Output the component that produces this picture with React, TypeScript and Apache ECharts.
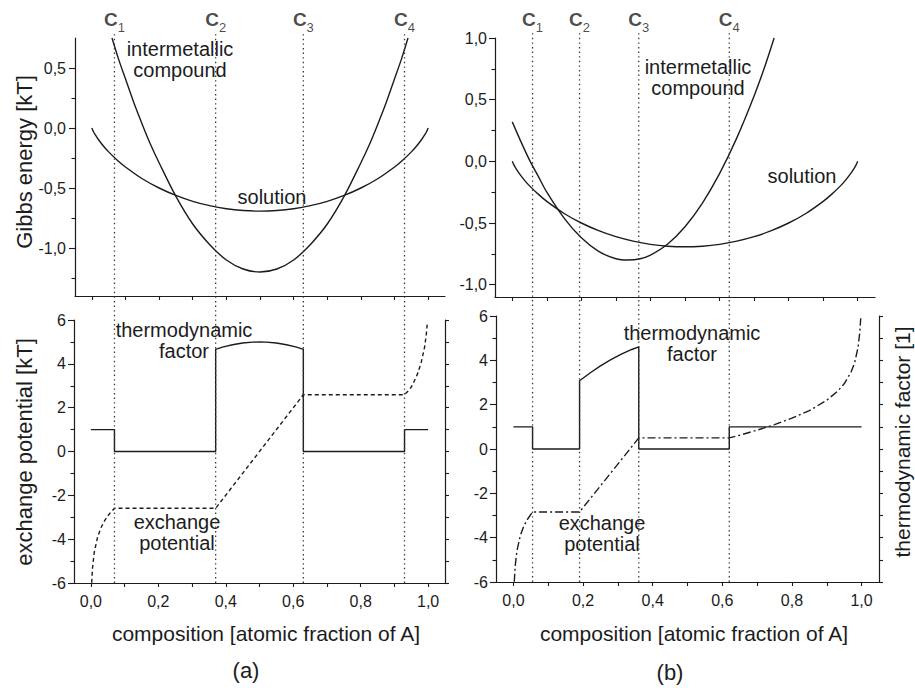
import React, { useEffect, useRef } from 'react';
import * as echarts from 'echarts';

const FONT = '"Liberation Sans", Arial, Helvetica, sans-serif';
const INK = '#1c1c1c';

// Gibbs energy of the solution phase (same curve in both panels)
const solutionX = [0, 0.005, 0.01, 0.02, 0.035, 0.05, 0.075, 0.1, 0.15, 0.2, 0.25, 0.3, 0.35, 0.4, 0.45, 0.5, 0.55, 0.6, 0.65, 0.7, 0.75, 0.8, 0.85, 0.9, 0.925, 0.95, 0.965, 0.98, 0.99, 0.995, 1];
const solutionG = [0, -0.031, -0.056, -0.098, -0.152, -0.199, -0.266, -0.325, -0.423, -0.5, -0.562, -0.611, -0.647, -0.673, -0.688, -0.693, -0.688, -0.673, -0.647, -0.611, -0.562, -0.5, -0.423, -0.325, -0.266, -0.199, -0.152, -0.098, -0.056, -0.031, 0];

// Gibbs energy of the intermetallic compound, panel (a)
const compoundAX = [0.06, 0.08, 0.1, 0.125, 0.15, 0.175, 0.2, 0.25, 0.3, 0.35, 0.4, 0.45, 0.5, 0.55, 0.6, 0.65, 0.7, 0.75, 0.8, 0.825, 0.85, 0.875, 0.9, 0.92, 0.94];
const compoundAG = [0.75, 0.57, 0.41, 0.21, 0.03, -0.14, -0.29, -0.57, -0.8, -0.97, -1.1, -1.175, -1.2, -1.175, -1.1, -0.97, -0.8, -0.57, -0.29, -0.14, 0.03, 0.21, 0.41, 0.57, 0.75];

// Gibbs energy of the intermetallic compound, panel (b)
const compoundBX = [0, 0.025, 0.05, 0.075, 0.1, 0.15, 0.2, 0.25, 0.3, 0.335, 0.37, 0.4, 0.45, 0.5, 0.55, 0.6, 0.65, 0.7, 0.73, 0.758];
const compoundBG = [0.32, 0.16, 0.01, -0.12, -0.25, -0.46, -0.62, -0.73, -0.79, -0.8, -0.79, -0.76, -0.67, -0.53, -0.34, -0.1, 0.19, 0.53, 0.76, 1.0];

// Thermodynamic factor, panel (a)
const factorAX = [0, 0.07, 0.07, 0.37, 0.37, 0.39, 0.42, 0.45, 0.48, 0.5, 0.52, 0.55, 0.58, 0.61, 0.63, 0.63, 0.93, 0.93, 1];
const factorAV = [1, 1, 0, 0, 4.66, 4.76, 4.87, 4.95, 4.99, 5.0, 4.99, 4.95, 4.87, 4.76, 4.66, 0, 0, 1, 1];

// Exchange potential, panel (a)
const potentialAX = [0.0025, 0.005, 0.01, 0.02, 0.03, 0.04, 0.05, 0.06, 0.07, 0.37, 0.63, 0.93, 0.94, 0.95, 0.96, 0.97, 0.98, 0.99, 0.995, 0.9975];
const potentialAV = [-5.99, -5.3, -4.6, -3.9, -3.48, -3.18, -2.94, -2.75, -2.59, -2.59, 2.59, 2.59, 2.75, 2.94, 3.25, 3.6, 4.1, 4.8, 5.4, 5.85];

// Thermodynamic factor, panel (b)
const factorBX = [0, 0.055, 0.055, 0.19, 0.19, 0.22, 0.25, 0.28, 0.31, 0.34, 0.36, 0.36, 0.62, 0.62, 1];
const factorBV = [1, 1, 0, 0, 3.08, 3.43, 3.75, 4.03, 4.28, 4.49, 4.61, 0, 0, 1, 1];

// Exchange potential, panel (b)
const potentialBX = [0.0025, 0.005, 0.01, 0.02, 0.03, 0.04, 0.055, 0.19, 0.36, 0.62, 0.65, 0.7, 0.75, 0.8, 0.85, 0.9, 0.93, 0.95, 0.97, 0.98, 0.99, 0.995, 0.9975];
const potentialBV = [-5.99, -5.3, -4.6, -3.9, -3.48, -3.18, -2.84, -2.84, 0.5, 0.5, 0.62, 0.85, 1.1, 1.39, 1.73, 2.2, 2.59, 2.94, 3.48, 3.89, 4.6, 5.29, 5.9];

// Phase-boundary compositions c1..c4
const boundsA = [0.07, 0.37, 0.63, 0.93];
const boundsB = [0.055, 0.19, 0.36, 0.62];

// Tick positions
const xTicks = [0, 0.1, 0.2, 0.3, 0.4, 0.5, 0.6, 0.7, 0.8, 0.9, 1];
const xLabels = [0, 0.2, 0.4, 0.6, 0.8, 1];
const gibbsLabelsA = [-1, -0.5, 0, 0.5];
const gibbsMinorA = [-1.25, -0.75, -0.25, 0.25];
const gibbsLabelsB = [-1, -0.5, 0, 0.5, 1];
const gibbsMinorB = [-0.75, -0.25, 0.25, 0.75];
const potLabels = [-6, -4, -2, 0, 2, 4, 6];
const potMinor = [-5, -3, -1, 1, 3, 5];
const potAll = [-6, -5, -4, -3, -2, -1, 0, 1, 2, 3, 4, 5, 6];

const zip = (xs: number[], ys: number[]) => xs.map((x, i) => [x, ys[i]]);
const comma1 = (v: number) => v.toFixed(1).replace('.', ',');

const axisLine = { show: true, onZero: false, lineStyle: { color: INK, width: 1.2 } };
const labelStyle = { color: INK, fontFamily: FONT, fontSize: 16 };

function xAxisFor(grid: number, withLabels: boolean) {
  return {
    type: 'value', gridIndex: grid, min: -0.05, max: 1.05, position: 'bottom',
    axisLine,
    splitLine: { show: false },
    axisTick: { show: true, length: 4, inside: false, customValues: xTicks, lineStyle: { color: INK, width: 1.1 } },
    axisLabel: withLabels
      ? { show: true, customValues: xLabels, formatter: comma1, margin: 10, ...labelStyle }
      : { show: false },
  };
}

function yMain(grid: number, min: number, max: number, labels: number[], fmt: (v: number) => string, margin: number) {
  return {
    type: 'value', gridIndex: grid, min, max, position: 'left',
    axisLine,
    splitLine: { show: false },
    axisTick: { show: true, length: 6, inside: false, customValues: labels, lineStyle: { color: INK, width: 1.1 } },
    axisLabel: { show: true, customValues: labels, formatter: fmt, margin, ...labelStyle },
  };
}

function yMinor(grid: number, min: number, max: number, ticks: number[]) {
  return {
    type: 'value', gridIndex: grid, min, max, position: 'left',
    axisLine: { show: false, onZero: false },
    splitLine: { show: false },
    axisTick: { show: true, length: 3.5, inside: false, customValues: ticks, lineStyle: { color: INK, width: 1.1 } },
    axisLabel: { show: false },
  };
}

function yRight(grid: number) {
  return {
    type: 'value', gridIndex: grid, min: -6, max: 6, position: 'right',
    axisLine,
    splitLine: { show: false },
    axisTick: { show: true, length: 4, inside: false, customValues: potAll, lineStyle: { color: INK, width: 1.1 } },
    axisLabel: { show: false },
  };
}

function hiddenAxis(grid: number, min: number, max: number) {
  return {
    type: 'value', gridIndex: grid, min, max,
    show: false,
    axisLine: { show: false, onZero: false }, axisTick: { show: false }, axisLabel: { show: false }, splitLine: { show: false },
  };
}

function curve(name: string, xi: number, yi: number, data: number[][], type: any, smooth: number | boolean) {
  return {
    name, type: 'line', xAxisIndex: xi, yAxisIndex: yi, data,
    smooth, symbol: 'none', silent: true,
    lineStyle: { color: INK, width: 1.4, type },
  };
}

function boundaryLines(bounds: number[], xi: number, yi: number, prefix: string) {
  const lines = bounds.map((c, i) => ({
    name: `${prefix} c${i + 1}`, type: 'line', xAxisIndex: xi, yAxisIndex: yi,
    data: [[c, 0], [c, 1]], symbol: 'none', silent: true,
    lineStyle: { color: '#3a3a3a', width: 1.3, type: [1.4, 3.2] },
  }));
  const labels = {
    name: `${prefix} labels`, type: 'scatter', xAxisIndex: xi, yAxisIndex: yi,
    data: bounds.map((c) => [c, 1]), symbolSize: 0, silent: true,
    label: {
      show: true, position: 'top', distance: 2,
      formatter: (p: any) => `{c|C}{s|${p.dataIndex + 1}}`,
      rich: {
        c: { fontFamily: FONT, fontSize: 19, fontWeight: 'bold', color: INK, lineHeight: 20, verticalAlign: 'top' },
        s: { fontFamily: FONT, fontSize: 13, color: INK, lineHeight: 12, verticalAlign: 'bottom', padding: [0, 0, -4, 0] },
      },
    },
  };
  return [...lines, labels];
}

function txt(text: string, x: number, y: number, size = 20, rotation = 0, lineHeight = 21) {
  return {
    type: 'text', x, y, rotation, silent: true,
    style: {
      text, fill: INK, font: `${size}px ${FONT}`,
      textAlign: 'center', textVerticalAlign: 'middle', lineHeight,
    },
  };
}

export default function App() {
  const ref = useRef<HTMLDivElement>(null);

  useEffect(() => {
    if (!ref.current) return;
    const chart = echarts.init(ref.current, undefined, { renderer: 'svg' });
    chart.setOption({
      animation: false,
      backgroundColor: '#ffffff',
      grid: [
        { left: 75, top: 38, width: 370, height: 258 },
        { left: 74, top: 320, width: 371, height: 263 },
        { left: 495, top: 38, width: 380, height: 259 },
        { left: 496, top: 316, width: 383, height: 266 },
        { left: 74, top: 32, width: 371, height: 551 },
        { left: 496, top: 32, width: 383, height: 550 },
      ],
      xAxis: [
        xAxisFor(0, false),
        xAxisFor(1, true),
        xAxisFor(2, false),
        xAxisFor(3, true),
        hiddenAxis(4, -0.05, 1.05),
        hiddenAxis(5, -0.05, 1.05),
      ],
      yAxis: [
        yMain(0, -1.4, 0.75, gibbsLabelsA, comma1, 9),
        yMinor(0, -1.4, 0.75, gibbsMinorA),
        yMain(1, -6, 6, potLabels, (v: number) => String(v), 8),
        yMinor(1, -6, 6, potMinor),
        yRight(1),
        yMain(2, -1.1, 1.0, gibbsLabelsB, comma1, 8),
        yMinor(2, -1.1, 1.0, gibbsMinorB),
        yMain(3, -6, 6, potLabels, (v: number) => String(v), 8),
        yMinor(3, -6, 6, potMinor),
        yRight(3),
        hiddenAxis(4, 0, 1),
        hiddenAxis(5, 0, 1),
      ],
      series: [
        curve('solution (a)', 0, 0, zip(solutionX, solutionG), 'solid', 0.3),
        curve('intermetallic compound (a)', 0, 0, zip(compoundAX, compoundAG), 'solid', 0.3),
        curve('thermodynamic factor (a)', 1, 2, zip(factorAX, factorAV), 'solid', false),
        curve('exchange potential (a)', 1, 2, zip(potentialAX, potentialAV), [4, 3], false),
        curve('solution (b)', 2, 5, zip(solutionX, solutionG), 'solid', 0.3),
        curve('intermetallic compound (b)', 2, 5, zip(compoundBX, compoundBG), 'solid', 0.3),
        curve('thermodynamic factor (b)', 3, 7, zip(factorBX, factorBV), 'solid', false),
        curve('exchange potential (b)', 3, 7, zip(potentialBX, potentialBV), [8, 3, 2, 3], false),
        ...boundaryLines(boundsA, 4, 10, 'a'),
        ...boundaryLines(boundsB, 5, 11, 'b'),
      ],
      graphic: [
        txt('Gibbs energy [kT]', 24, 162, 22, Math.PI / 2),
        txt('exchange potential [kT]', 24, 452, 22, Math.PI / 2),
        txt('thermodynamic factor [1]', 902, 442, 21, Math.PI / 2),
        txt('composition [atomic fraction of A]', 266, 633, 21),
        txt('composition [atomic fraction of A]', 694, 633, 21),
        txt('(a)', 246, 670, 22),
        txt('(b)', 670, 672, 22),
        txt('intermetallic\ncompound', 180, 59),
        txt('solution', 272, 197),
        txt('intermetallic\ncompound', 698, 77),
        txt('solution', 802, 176),
        txt('thermodynamic\nfactor', 184, 340),
        txt('exchange\npotential', 177, 532),
        txt('thermodynamic\nfactor', 692, 343),
        txt('exchange\npotential', 602, 533),
      ],
    });
    return () => chart.dispose();
  }, []);

  return <div ref={ref} style={{ width: 915, height: 688, position: 'absolute', left: 0, top: 0 }} />;
}
